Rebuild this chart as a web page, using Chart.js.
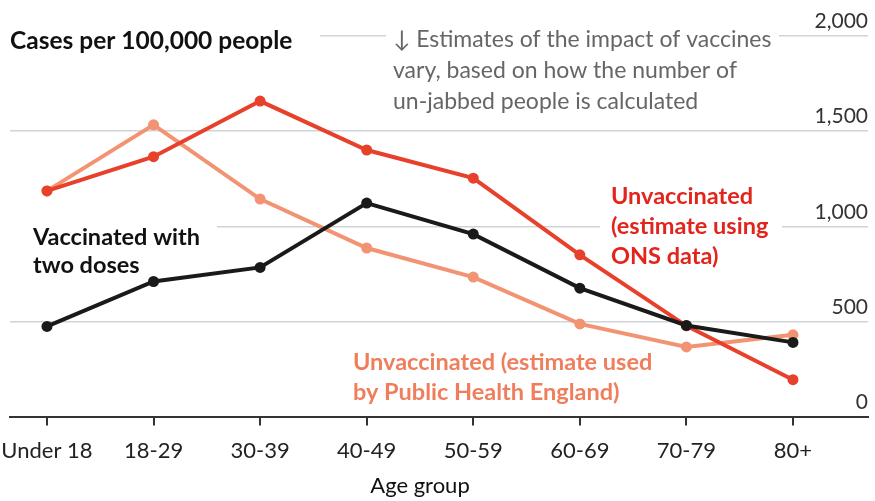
<!DOCTYPE html>
<html>
<head>
<meta charset="utf-8">
<script src="https://cdn.jsdelivr.net/npm/chart.js@4.4.1/dist/chart.umd.min.js"></script>
<style>
  html, body { margin: 0; padding: 0; background: #fff; }
  #wrap { width: 875px; height: 501px; }
</style>
</head>
<body>
<div id="wrap"><canvas id="chart" width="875" height="501"></canvas></div>
<script>
const ageGroups = ['Under 18', '18-29', '30-39', '40-49', '50-59', '60-69', '70-79', '80+'];
const vaccinated = [474, 710, 784, 1122, 959, 675, 479, 390];
const unvaxOns = [1186, 1366, 1658, 1401, 1253, 850, 477, 194];
const unvaxPhe = [1186, 1533, 1143, 886, 733, 487, 366, 430];
const yTicks = [0, 500, 1000, 1500, 2000];

const toPoints = arr => arr.map((v, i) => ({ x: i, y: v }));

function textLines(ctx, lines, x, y, step) {
  lines.forEach((t, i) => ctx.fillText(t, x, y + i * step));
}

// annotations, with white boxes that break the gridlines like the original
const notes = {
  id: 'notes',
  beforeDatasetsDraw(chart) {
    const ctx = chart.ctx;
    ctx.save();
    ctx.fillStyle = '#fff';
    ctx.fillRect(0, 18, 320, 46);
    ctx.fillRect(386, 18, 393, 98);
    ctx.fillRect(0, 218, 217, 66);
    ctx.fillRect(600, 178, 182, 96);

    ctx.textBaseline = 'middle';
    ctx.textAlign = 'left';
    ctx.fillStyle = '#111';
    ctx.font = 'bold 24.5px Lato';
    ctx.fillText('Cases per 100,000 people', 10, 41);

    ctx.fillStyle = '#666';
    ctx.font = '23px Lato';
    textLines(ctx, ['↓ Estimates of the impact of vaccines', 'vary, based on how the number of',
      'un-jabbed people is calculated'], 393, 40, 31);

    ctx.fillStyle = '#111';
    ctx.font = 'bold 23.5px Lato';
    textLines(ctx, ['Vaccinated with', 'two doses'], 33, 237, 28);

    ctx.fillStyle = '#e3241b';
    textLines(ctx, ['Unvaccinated', '(estimate using', 'ONS data)'], 611, 196, 30);

    ctx.fillStyle = '#f07d5c';
    textLines(ctx, ['Unvaccinated (estimate used', 'by Public Health England)'], 353, 362, 30);
    ctx.restore();
  },
  afterDraw(chart) {
    const ctx = chart.ctx;
    const x = chart.scales.x;
    const mid = (x.getPixelForValue(0) + x.getPixelForValue(ageGroups.length - 1)) / 2;
    ctx.save();
    ctx.fillStyle = '#111';
    ctx.font = '22px Lato';
    ctx.textAlign = 'center';
    ctx.textBaseline = 'alphabetic';
    ctx.fillText('Age group', mid, 493);
    ctx.restore();
  }
};

Chart.defaults.font.family = 'Lato';

new Chart(document.getElementById('chart'), {
  type: 'line',
  data: {
    datasets: [
      { label: 'Vaccinated with two doses', data: toPoints(vaccinated),
        borderColor: '#1a1a1a', backgroundColor: '#1a1a1a' },
      { label: 'Unvaccinated (ONS)', data: toPoints(unvaxOns),
        borderColor: '#e8412b', backgroundColor: '#e8412b' },
      { label: 'Unvaccinated (PHE)', data: toPoints(unvaxPhe),
        borderColor: '#f29473', backgroundColor: '#f29473' }
    ]
  },
  options: {
    responsive: false,
    animation: false,
    layout: { padding: { left: 10, right: 7, top: 36, bottom: 25 } },
    elements: {
      line: { borderWidth: 4, tension: 0 },
      point: { radius: 5.5, borderWidth: 0, hoverRadius: 5.5 }
    },
    plugins: { legend: { display: false }, tooltip: { enabled: false } },
    scales: {
      x: {
        type: 'linear',
        min: -0.347,
        max: 7.704,
        afterBuildTicks: axis => { axis.ticks = ageGroups.map((_, i) => ({ value: i })); },
        afterFit: axis => { axis.paddingLeft = 0; axis.paddingRight = 0; },
        grid: { drawOnChartArea: false, drawTicks: true, tickLength: 9, color: '#333', lineWidth: 2 },
        border: { color: '#333', width: 2 },
        ticks: {
          callback: v => ageGroups[v],
          autoSkip: false, maxRotation: 0,
          color: '#222', font: { size: 22 }, padding: 12
        }
      },
      y: {
        position: 'right',
        min: 0,
        max: 2000,
        afterBuildTicks: axis => { axis.ticks = yTicks.map(v => ({ value: v })); },
        afterFit: axis => { axis.paddingTop = 0; axis.paddingBottom = 0; },
        grid: { color: '#cfd4d6', lineWidth: 1.5, drawTicks: false },
        border: { display: false },
        ticks: {
          mirror: true, padding: 0, labelOffset: -14.5,
          color: '#333', font: { size: 21 },
          callback: v => v.toLocaleString('en-US')
        }
      }
    }
  },
  plugins: [notes]
});
</script>
</body>
</html>
